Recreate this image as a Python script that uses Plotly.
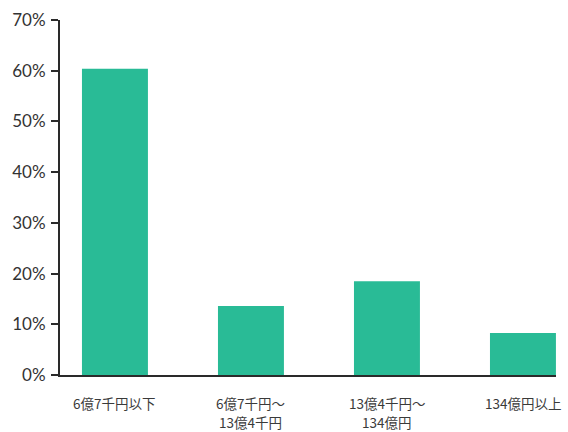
import plotly.graph_objects as go

categories = ["6億7千円以下", "6億7千円～\n13億4千円", "13億4千円～\n134億円", "134億円以上"]
values = [60.4, 13.6, 18.5, 8.3]
tick_vals = [0, 10, 20, 30, 40, 50, 60, 70]
tick_text = ["0%", "10%", "20%", "30%", "40%", "50%", "60%", "70%"]

fig = go.Figure(go.Bar(x=list(range(len(categories))), y=values, marker_color="#29BB96",
                       marker_line_width=0, hoverinfo="skip"))

fig.update_layout(
    width=568, height=432,
    margin=dict(l=60, r=12, t=20, b=57),
    plot_bgcolor="white", paper_bgcolor="white",
    bargap=0.515, showlegend=False,
)

# category labels drawn as annotations (one per line) for reliable line spacing
for i, cat in enumerate(categories):
    for j, line in enumerate(cat.split("\n")):
        fig.add_annotation(
            x=i, xref="x", y=0, yref="paper", yanchor="middle", xanchor="center",
            yshift=-28 - 19 * j, text=line, showarrow=False, borderpad=0,
            font=dict(family="Noto Sans CJK JP", size=13.5, color="#3a3a3a"),
        )

fig.update_xaxes(
    tickmode="array", tickvals=list(range(len(categories))), ticktext=[""] * len(categories),
    range=[-0.404, 3.243], showline=True, linecolor="#2a2a2a", linewidth=2,
    ticks="", showgrid=False, zeroline=False, automargin=False,
)
fig.update_yaxes(
    tickmode="array", tickvals=tick_vals, ticktext=tick_text,
    range=[0, 70], showline=True, linecolor="#2a2a2a", linewidth=2,
    ticks="outside", ticklen=7, tickwidth=2, tickcolor="#2a2a2a",
    showgrid=False, zeroline=False, ticklabelstandoff=2, automargin=False,
    tickfont=dict(family="Lato", size=17, color="#333333"),
)
fig.write_html("out.html")
